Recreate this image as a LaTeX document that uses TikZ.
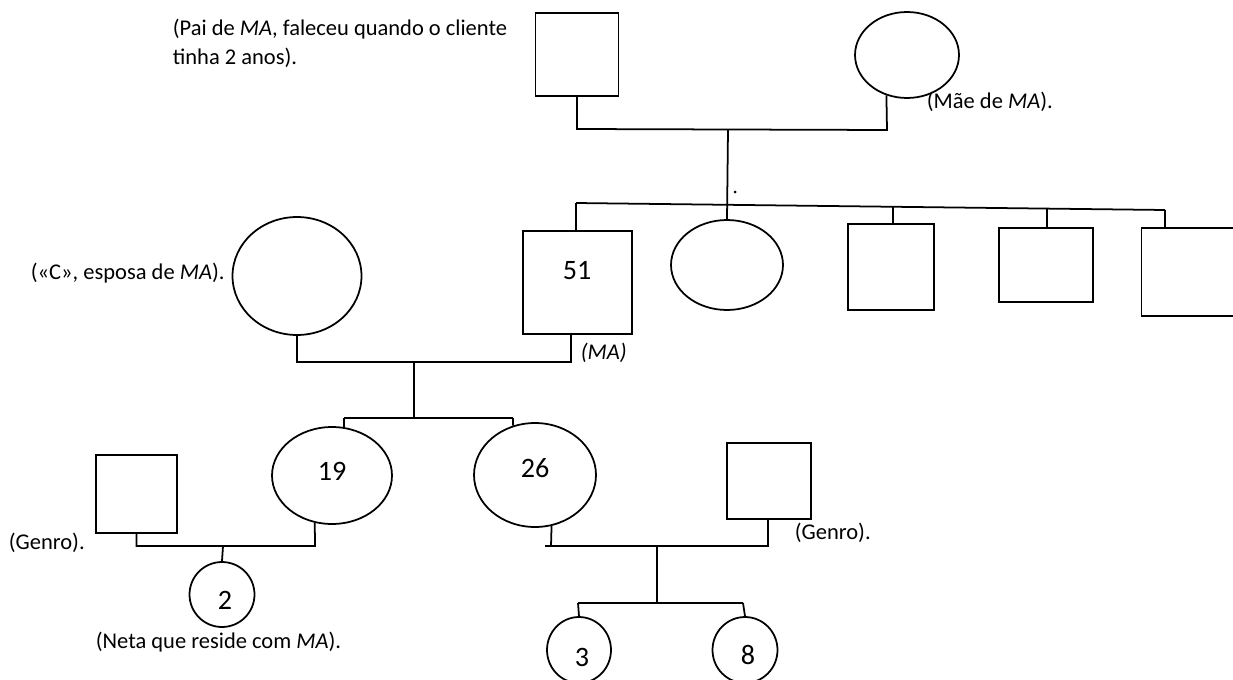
\documentclass[tikz,border=0pt]{standalone}
\usepackage{fontspec}
\setmainfont{Carlito}
\usetikzlibrary{shapes.geometric}

\begin{document}
\begin{tikzpicture}[x=0.02cm, y=-0.02cm, line width=1pt,
    homem/.style={draw, rectangle, inner sep=0pt},
    mulher/.style={draw, ellipse, inner sep=0pt},
    nota/.style={anchor=west, inner sep=0pt, font=\fontsize{12.8}{15.6}\selectfont},
    idade/.style={inner sep=0pt, font=\fontsize{16}{18}\selectfont}]
          \useasboundingbox (0,0) rectangle (1233,679);
          \clip (0,0) rectangle (1233,679);
          \node[homem, minimum width=1.66cm, minimum height=1.66cm] (pai) at (577,54.5){};
          \node[mulher, minimum width=2.08cm, minimum height=1.72cm] (mae) at (907,55){};
          \node[nota, align=left, font=\fontsize{12.8}{16.4}\selectfont] (tpai) at (172,43){(Pai de \textit{MA}, faleceu quando o cliente\\tinha 2 anos).};
          \node[nota] (tmae) at (926,102){(Mãe de \textit{MA}).};
          \coordinate (c0) at (577,129);
          \coordinate (c1) at (887,130);
          \coordinate (c2) at (728,129.5);
          \draw[](pai.south) -- (c0) -- (c1) -- (mae.-117);
          \node[homem, minimum width=2.18cm, minimum height=2.06cm] (ma) at (577.5,282.5){};
          \node[idade] (t51) at (577,271){51};
          \node[mulher, minimum width=2.24cm, minimum height=1.8cm] (irma) at (727,265){};
          \node[homem, minimum width=1.72cm, minimum height=1.72cm] (irm1) at (891,267){};
          \node[homem, minimum width=1.88cm, minimum height=1.48cm] (irm2) at (1046,265){};
          \node[homem, minimum width=2.18cm, minimum height=1.76cm] (irm3) at (1196,272){};
          \draw[](c2) -- (irma.north);
          \fill (735,192) circle[radius=0.03cm];
          \coordinate (s0) at (576,203);
          \coordinate (s1) at (893,206.8);
          \coordinate (s2) at (1047,208.6);
          \coordinate (s3) at (1165,210);
          \draw[](s0) -- (s3);
          \draw[](s0) -- (s0 |- ma.north);
          \draw[](s1) -- (s1 |- irm1.north);
          \draw[](s2) -- (s2 |- irm2.north);
          \draw[](s3) -- (s3 |- irm3.north);
          \node[mulher, minimum width=2.58cm, minimum height=2.36cm] (esp) at (297,276){};
          \node[nota] (tesp) at (30,273){(«C», esposa de \textit{MA}).};
          \node[nota] (tma) at (580,353){\textit{(MA)}};
          \coordinate (m0) at (571,362);
          \coordinate (m1) at (414,362);
          \draw[](esp.south) |- (m0) -- (m0 |- ma.south);
          \node[mulher, minimum width=2.4cm, minimum height=1.94cm] (f19) at (332,475.5){};
          \node[idade] (t19) at (332,471){19};
          \node[mulher, minimum width=2.44cm, minimum height=2.08cm] (f26) at (535,475){};
          \node[idade] (t26) at (535,468){26};
          \coordinate (f0) at (414,418);
          \coordinate (f1) at (344,418);
          \coordinate (f2) at (513,418);
          \draw[](m1) -- (f0);
          \draw[](f1) -- (f2);
          \draw[](f1) -- (f19.76);
          \draw[](f2) -- (f26.114);
          \node[homem, minimum width=1.62cm, minimum height=1.56cm] (gen1) at (136.5,494){};
          \node[nota] (tgen1) at (8,543){(Genro).};
          \node[mulher, minimum width=1.3cm, minimum height=1.3cm] (n2) at (222,594.5){};
          \node[idade] (t2) at (225,600){2};
          \node[nota] (tneta) at (95,642){(Neta que reside com \textit{MA}).};
          \coordinate (g0) at (315,546);
          \coordinate (g1) at (223,546);
          \draw[](gen1.south) |- (g0) -- (f19.-110);
          \draw[](g1) -- (n2.north);
          \node[homem, minimum width=1.68cm, minimum height=1.52cm] (gen2) at (769,481){};
          \node[nota] (tgen2) at (794,533){(Genro).};
          \coordinate (h0) at (545,546);
          \coordinate (h1) at (768,546);
          \coordinate (h2) at (551,546);
          \coordinate (h3) at (657,546);
          \draw[](h0) -- (h1) -- (h1 |- gen2.south);
          \draw[](h2) -- (f26.-72);
          \node[mulher, minimum width=1.28cm, minimum height=1.32cm] (n3) at (579,650){};
          \node[idade] (t3) at (582,657){3};
          \node[mulher, minimum width=1.3cm, minimum height=1.32cm] (n8) at (745,650){};
          \node[idade] (t8) at (748,655){8};
          \coordinate (k0) at (657,603);
          \coordinate (k1) at (578,603);
          \coordinate (k2) at (743,603);
          \draw[](h3) -- (k0);
          \draw[](k1) -- (k2);
          \draw[](k1) -- (n3.north);
          \draw[](k2) -- (n8.north);
        \end{tikzpicture}
\end{document}
